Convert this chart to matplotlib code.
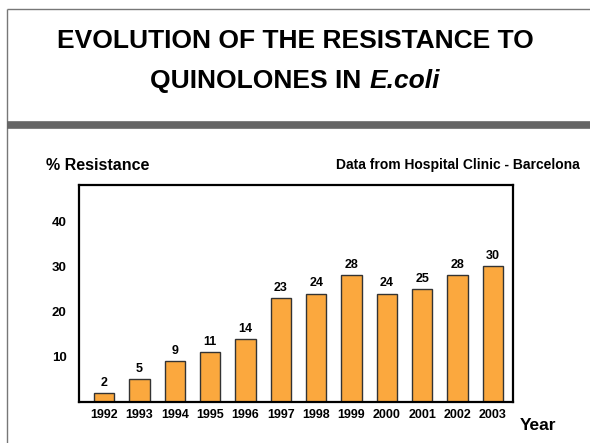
import matplotlib
matplotlib.use('Agg')
import matplotlib.pyplot as plt
from matplotlib import font_manager
from matplotlib.lines import Line2D

years = ['1992', '1993', '1994', '1995', '1996', '1997',
         '1998', '1999', '2000', '2001', '2002', '2003']
resistance = [2, 5, 9, 11, 14, 23, 24, 28, 24, 25, 28, 30]
yticks = [10, 20, 30, 40]

# narrow bold face like the slide, if we have it
names = {f.name for f in font_manager.fontManager.ttflist}
font = 'Liberation Sans Narrow' if 'Liberation Sans Narrow' in names else 'Liberation Sans'
plt.rcParams['font.family'] = [font, 'DejaVu Sans']
plt.rcParams['font.weight'] = 'bold'

W, H = 590, 443
fig = plt.figure(figsize=(W / 100, H / 100), dpi=100)

# slide frame and grey separator band
fig.add_artist(Line2D([7 / W, 7 / W], [0, 1 - 9 / H], transform=fig.transFigure,
                      color='#777777', lw=1, solid_capstyle='butt'))
fig.add_artist(Line2D([7 / W, 1], [1 - 9 / H, 1 - 9 / H], transform=fig.transFigure,
                      color='#777777', lw=1, solid_capstyle='butt'))
fig.add_artist(Line2D([7 / W, 1], [1 - 125 / H, 1 - 125 / H], transform=fig.transFigure,
                      color='#666666', lw=5.5, solid_capstyle='butt'))

# title
fig.text(0.5, 1 - 41 / H, 'EVOLUTION OF THE RESISTANCE TO', ha='center', va='center',
         fontsize=19, fontweight='bold')
renderer = fig.canvas.get_renderer()
t1 = fig.text(0, 1 - 81 / H, 'QUINOLONES IN ', ha='left', va='center',
              fontsize=19, fontweight='bold')
t2 = fig.text(0, 1 - 81 / H, 'E.coli', ha='left', va='center',
              fontsize=19, fontweight='bold', style='italic')
w1 = t1.get_window_extent(renderer).width
w2 = t2.get_window_extent(renderer).width
x0 = (W - w1 - w2) / 2
t1.set_x(x0 / W)
t2.set_x((x0 + w1) / W)

fig.text(46 / W, 1 - 165 / H, '% Resistance', ha='left', va='center', fontsize=11.5)
fig.text(580 / W, 1 - 165 / H, 'Data from Hospital Clinic - Barcelona', ha='right',
         va='center', fontsize=10)
fig.text(520 / W, 1 - 425 / H, 'Year', ha='left', va='center', fontsize=12.5)

ax = fig.add_axes([79 / W, 1 - 402 / H, 434 / W, 217 / H])
x = list(range(len(years)))
ax.bar(x, resistance, width=0.57, color='#FBA83E', edgecolor='#333333', linewidth=1)
for xi, v in zip(x, resistance):
    ax.annotate(str(v), (xi, v), xytext=(0, 3), textcoords='offset points',
                ha='center', va='bottom', fontsize=9, fontweight='bold')

ax.set_xlim(-0.71, 11.57)
ax.set_ylim(0, 48)
ax.set_yticks(yticks)
ax.set_xticks(x, years)
ax.tick_params(length=0, labelsize=9)
ax.tick_params(axis='y', pad=9, labelsize=9.5)
ax.tick_params(axis='x', pad=5)
for s in ax.spines.values():
    s.set_linewidth(1.6)

plt.savefig('out.png', dpi=100)
